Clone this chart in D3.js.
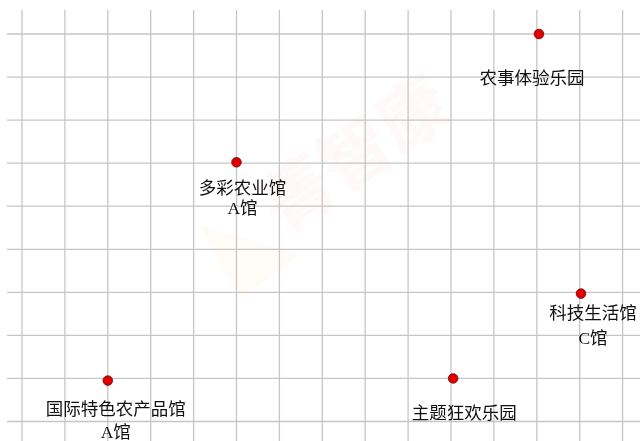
<!DOCTYPE html>
<html lang="zh">
<head>
<meta charset="UTF-8"/>
<title>场馆位置图</title>
<script src="https://d3js.org/d3.v7.min.js"></script>
<style>
  body { margin: 0; background: #fff; }
  svg { display: block; }
</style>
</head>
<body>
<script>
var w = 640;
var h = 441;

// venue names, second line of label, grid coordinates
var names = ["农事体验乐园", "多彩农业馆", "科技生活馆", "国际特色农产品馆", "主题狂欢乐园"];
var subNames = ["", "A馆", "C馆", "A馆", ""];
var gridX = [12.05, 5, 13.03, 2, 10.05];
var gridY = [0, 2.98, 6.03, 8.05, 8];

// grid extent in cells
var colTicks = d3.range(0, 15);
var rowTicks = d3.range(0, 10);

var xScale = d3.scaleLinear().domain([0, 14]).range([22, 622.6]);
var yScale = d3.scaleLinear().domain([0, 9]).range([34, 421.5]);

var svg = d3.select("body").append("svg")
    .attr("width", w)
    .attr("height", h);

/* faint watermark */
var wm = svg.append("g").attr("opacity", 0.035).attr("fill", "#d23");
wm.append("text")
    .attr("transform", "translate(370,175) rotate(-35)")
    .attr("text-anchor", "middle")
    .attr("font-family", "Noto Sans CJK SC")
    .attr("font-weight", "bold")
    .attr("font-size", 70)
    .text("菁智康");
wm.append("path")
    .attr("d", "M200,225 L300,255 L240,300 Z")
    .attr("fill", "#f80");

/* grid */
svg.append("g").selectAll("line")
    .data(colTicks)
    .enter()
    .append("line")
    .attr("x1", d => xScale(d))
    .attr("x2", d => xScale(d))
    .attr("y1", 10)
    .attr("y2", h)
    .attr("stroke", "#c6c6c6")
    .attr("stroke-width", 1.3);

svg.append("g").selectAll("line")
    .data(rowTicks)
    .enter()
    .append("line")
    .attr("y1", d => yScale(d))
    .attr("y2", d => yScale(d))
    .attr("x1", 7)
    .attr("x2", w)
    .attr("stroke", "#c6c6c6")
    .attr("stroke-width", 1.3);

/* points */
svg.append("g").selectAll("circle")
    .data(names)
    .enter()
    .append("circle")
    .attr("cx", (d, i) => xScale(gridX[i]))
    .attr("cy", (d, i) => yScale(gridY[i]))
    .attr("r", 4.8)
    .attr("fill", "#e00000")
    .attr("stroke", "#6a0000")
    .attr("stroke-width", 0.8);

/* labels: offset from the point, [dx, dy line1, dy line2] */
var labelOff = [[-7, 50, 0], [6, 32, 52], [12, 25, 50], [8, 34, 57], [11, 41, 0]];

var labels = svg.append("g")
    .attr("font-family", "'Liberation Serif', 'Noto Sans CJK SC'")
    .attr("font-size", 17.5)
    .attr("fill", "#111")
    .attr("text-anchor", "middle");

labels.selectAll("text.main")
    .data(names)
    .enter()
    .append("text")
    .attr("class", "main")
    .attr("x", (d, i) => xScale(gridX[i]) + labelOff[i][0])
    .attr("y", (d, i) => yScale(gridY[i]) + labelOff[i][1])
    .text(d => d);

labels.selectAll("text.sub")
    .data(subNames)
    .enter()
    .append("text")
    .attr("class", "sub")
    .attr("x", (d, i) => xScale(gridX[i]) + labelOff[i][0])
    .attr("y", (d, i) => yScale(gridY[i]) + labelOff[i][2])
    .text(d => d);
</script>
</body>
</html>
